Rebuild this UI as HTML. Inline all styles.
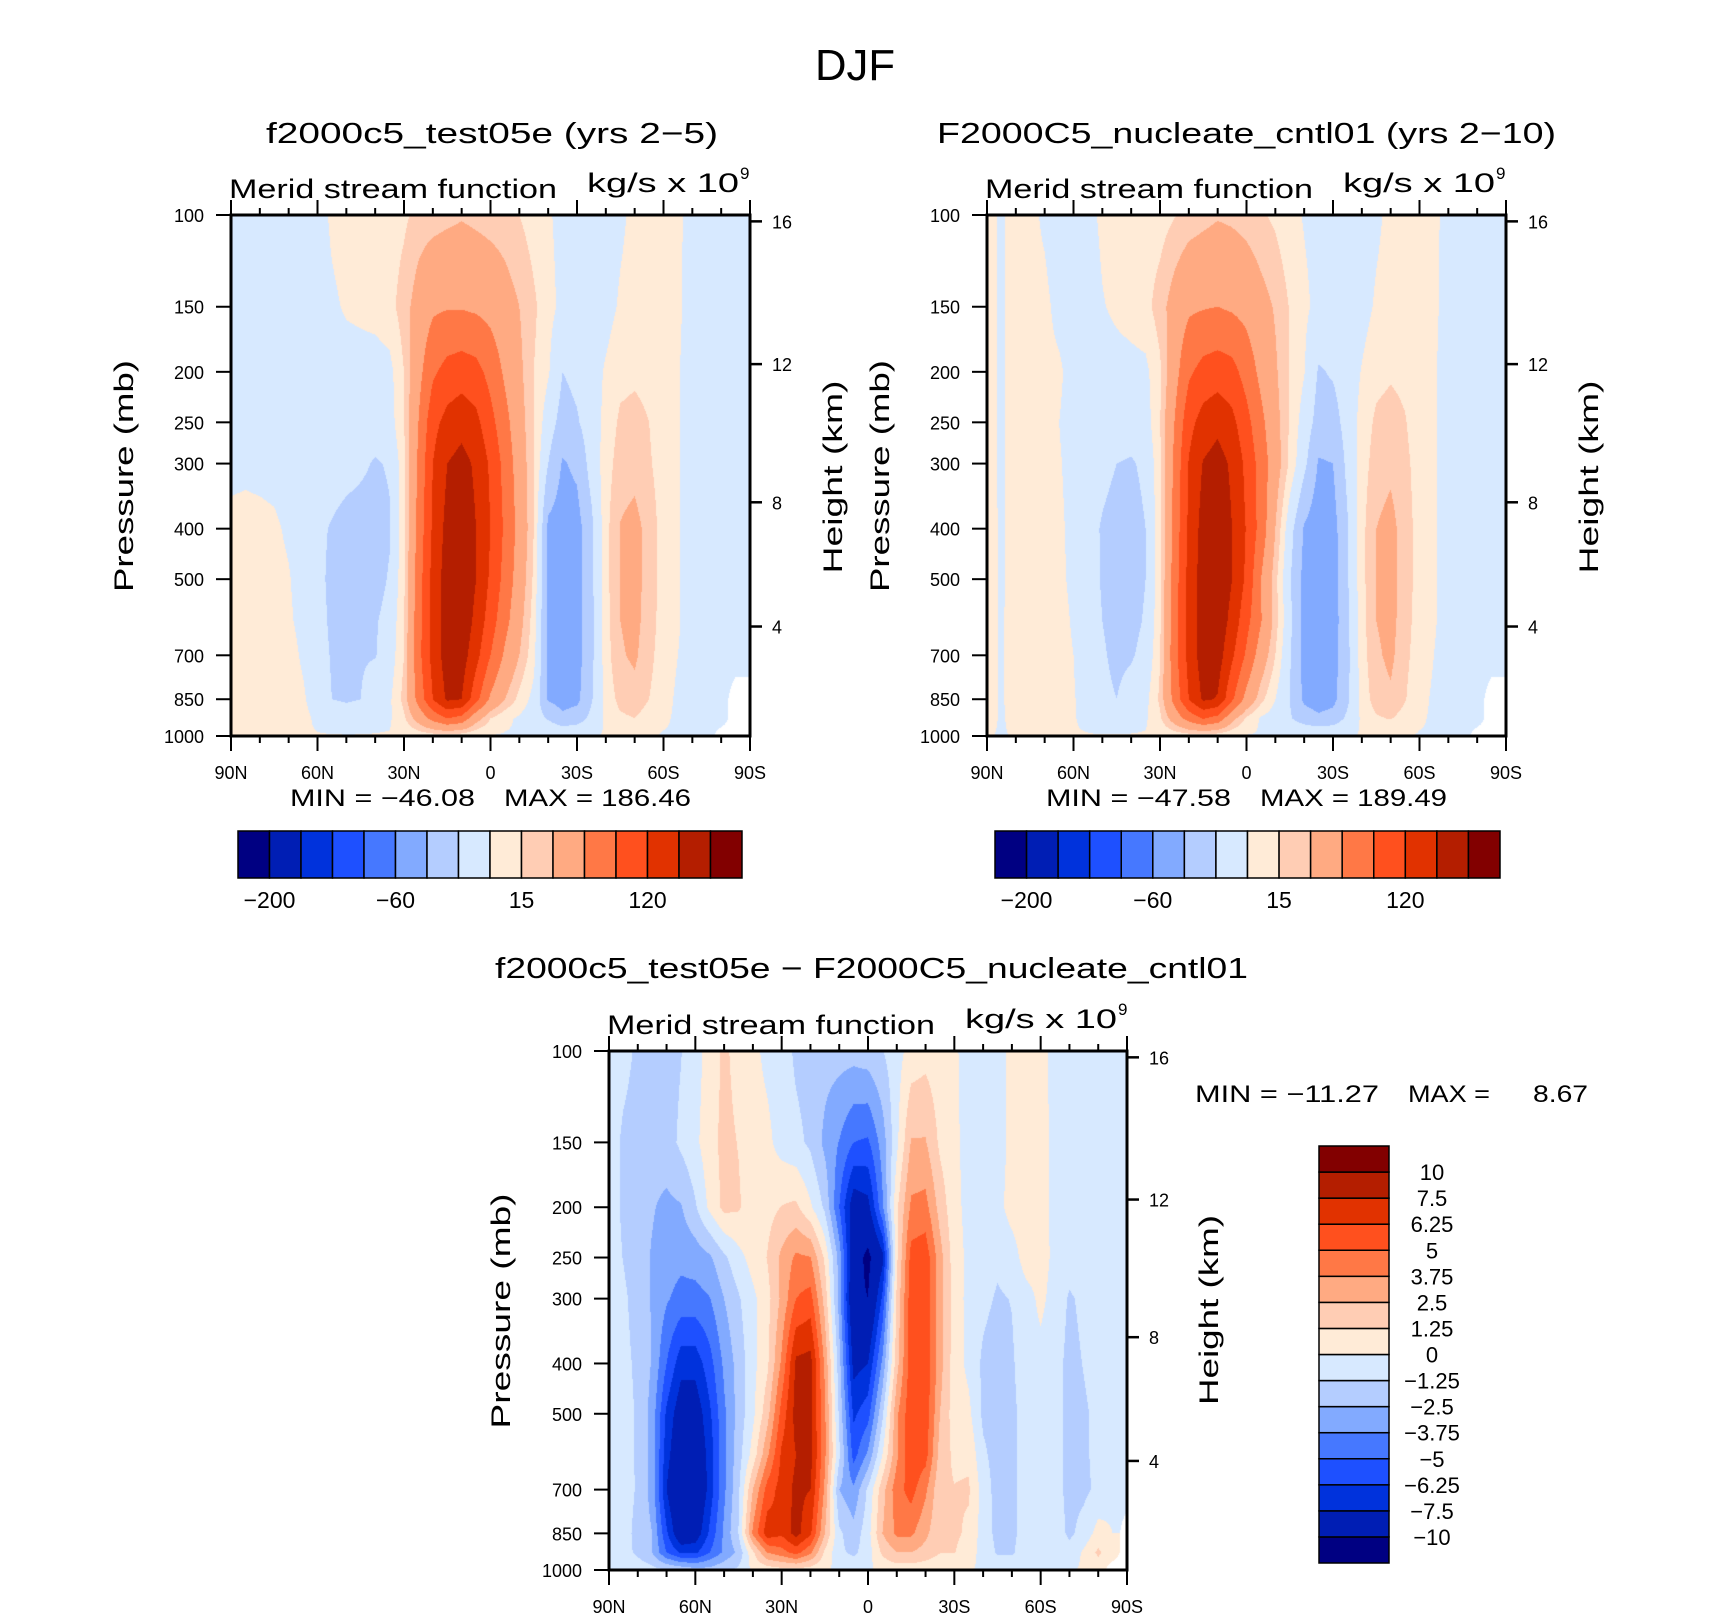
<!DOCTYPE html>
<html><head><meta charset="utf-8"><style>
html,body{margin:0;padding:0;background:#fff}
#wrap{position:relative;width:1710px;height:1620px;overflow:hidden;background:#fff}
canvas{position:absolute}
svg{position:absolute;left:0;top:0}
text{font-family:"Liberation Sans",sans-serif;fill:#000}
</style></head><body>
<div id="wrap">
<canvas id="cTL" style="left:231px;top:215px" width="519" height="521"></canvas>
<canvas id="cTR" style="left:987px;top:215px" width="519" height="521"></canvas>
<canvas id="cB" style="left:609px;top:1051px" width="518" height="519"></canvas>
<svg id="svg" width="1710" height="1620"></svg>
</div>
<script>
const levels=[100,150,200,250,300,400,500,600,700,850,925,1000];
const topContours=[-200,-150,-100,-80,-60,-40,-20,0,15,30,60,90,120,150,200];
const diffContours=[-10,-7.5,-6.25,-5,-3.75,-2.5,-1.25,0,1.25,2.5,3.75,5,6.25,7.5,10];
const palette=["#000082","#001eb4","#0032dc","#1e50ff","#4678ff","#82aaff","#b4cdff","#d7e9ff","#ffebd7","#ffcdb4","#ffaa82","#ff7846","#ff501e","#e13200","#b41e00","#820000"];
const topCbLabels=["−200","−60","15","120"];
const diffCbLabels=["−10","−7.5","−6.25","−5","−3.75","−2.5","−1.25","0","1.25","2.5","3.75","5","6.25","7.5","10"];
const pTicks=[100,150,200,250,300,400,500,700,850,1000];
const hTicks=[4,8,12,16];
const latTicks=[90,60,30,0,-30,-60,-90];
const latTickLabels=["90N","60N","30N","0","30S","60S","90S"];
const N=null;
const tlField=[
[-8,-8,-8,-8,-8,-8,-8,3,8,8,8,8,12,20,22,25,28,25,22,20,15,8,2,-5,-8,-8,-8,-3,4,5,4,2,-4,-4,-4,-4,-4],
[-8,-8,-8,-8,-8,-8,-8,-3,2,4,6,10,22,40,55,58,58,55,50,40,30,18,5,-4,-8,-8,-6,2,6,8,5,2,-5,-5,-5,-5,-5],
[-8,-8,-8,-8,-8,-8,-8,-8,-8,-8,-8,-5,15,50,85,100,105,100,80,55,35,15,2,-20,-15,-8,2,10,12,10,5,1,-6,-6,-6,-6,-6],
[-8,-6,-6,-8,-8,-8,-8,-8,-8,-8,-10,-8,15,60,110,130,140,128,100,70,40,15,-10,-28,-22,-10,5,18,20,15,6,1,-6,-6,-6,-6,-6],
[-3,-2,-3,-4,-6,-9,-9,-9,-12,-16,-22,-18,10,65,120,150,160,145,115,80,45,15,-20,-42,-36,-12,8,22,24,17,7,1,-6,-6,-6,-6,-6],
[3,3,3,2,-2,-8,-15,-22,-28,-30,-30,-22,10,70,125,160,170,150,120,85,50,15,-45,-50,-48,-25,10,31,36,24,8,1,-6,-6,-6,-6,-6],
[4,4,4,4,1,-6,-14,-25,-30,-30,-28,-18,12,75,130,165,175,150,115,80,45,12,-45,-50,-48,-25,10,31,36,24,8,1,-5,-5,-5,-5,-5],
[5,5,5,4,2,-4,-12,-24,-28,-27,-22,-13,14,78,130,165,172,142,105,70,38,8,-45,-50,-48,-25,9,30,35,23,7,1,-5,-5,-5,-5,-5],
[5,5,5,5,5,-2,-10,-22,-26,-22,-21,-10,15,80,130,165,165,130,90,55,30,5,-44,-50,-48,-25,8,28,33,20,6,0,-4,-4,-4,-4,-4],
[5,5,5,5,5,2,-8,-20,-22,-20,-8,-3,20,70,120,155,150,100,55,30,10,-5,-42,-48,-45,-22,5,20,24,15,4,-2,-4,-4,-4,N,N],
[4,4,4,4,4,4,-3,-8,-12,-10,-5,-2,12,40,70,90,80,40,15,3,-2,-10,-22,-35,-30,-15,3,12,15,8,2,-2,-3,-3,-3,N,N],
[1,1,1,1,1,1,1,1,1,1,1,1,2,4,6,6,4,1,-1,-1,-1,-1,-1,-1,-1,-1,1,1,1,1,-1,-1,-1,-1,N,N,N]];
const trField=[
[2,-1,3,3,-2,-8,-8,-5,3,8,8,8,8,14,20,24,28,26,22,17,12,4,-1,-5,-8,-8,-8,-3,4,5,4,2,-3,-3,-3,-3,-3],
[2,-1,3,3,3,-4,-8,-8,-1,3,6,10,22,40,55,58,60,56,50,38,28,14,3,-4,-8,-8,-6,2,6,8,5,2,-4,-4,-4,-4,-4],
[2,-1,3,3,3,2,-5,-8,-8,-6,-5,-4,12,48,85,100,105,100,78,52,33,14,1,-22,-18,-10,1,10,13,11,6,1,-4,-4,-4,-4,-4],
[2,-1,3,3,3,0,-5,-8,-8,-10,-10,-8,14,60,110,132,142,128,100,68,38,13,-8,-28,-28,-12,6,18,21,16,6,1,-4,-4,-4,-4,-4],
[2,-1,3,3,3,1,-4,-10,-14,-20,-22,-16,12,66,122,152,162,145,112,78,42,12,-15,-42,-40,-15,8,22,26,19,8,1,-4,-4,-4,-4,-4],
[3,-1,3,3,3,2,-3,-12,-22,-28,-28,-20,10,70,126,162,172,150,118,78,30,-12,-42,-52,-48,-22,10,30,36,22,9,1,-4,-4,-4,-4,-4],
[3,-1,3,3,3,2,-2,-10,-22,-28,-28,-20,10,74,130,165,176,150,114,60,20,-18,-46,-55,-50,-22,10,30,37,22,9,1,-4,-4,-4,-4,-4],
[3,-1,4,4,4,3,-1,-9,-20,-26,-26,-18,12,76,130,165,172,140,100,62,22,-15,-46,-55,-50,-24,9,30,36,21,8,1,-4,-4,-4,-4,-4],
[3,-1,4,4,4,3,0,-8,-18,-24,-22,-14,14,78,130,165,165,125,85,45,15,-18,-46,-54,-48,-25,8,27,34,19,7,0,-4,-4,-4,-4,-4],
[3,-1,4,4,4,3,1,-6,-16,-20,-12,-5,18,70,120,155,148,95,50,20,0,-20,-44,-50,-46,-24,6,22,27,16,4,-2,-4,-4,-4,N,N],
[3,-1,3,3,3,3,1,-4,-10,-10,-6,-2,12,42,72,92,80,38,12,-2,-8,-18,-30,-36,-32,-16,3,13,16,9,2,-2,-3,-3,-3,N,N],
[1,-1,1,1,1,1,1,1,1,1,1,1,2,4,6,6,4,1,-1,-1,-1,-1,-1,-1,-1,-1,1,1,1,1,-1,-1,-1,-1,N,N,N]];
const diffField=[
[-0.5,-0.8,-1.5,-2,-1.8,-1.3,-0.5,0.5,1.5,0.8,0.3,-0.3,-0.6,-1.5,-1.8,-2,-2,-2,-1.8,-1.3,-0.5,0.5,0.8,0.5,0.2,-0.5,-0.6,-0.4,0.3,0.6,0.3,-0.3,-0.5,-0.5,-0.5,-0.5,-0.5],
[-0.5,-1.5,-1.8,-2,-1.8,-1,-0.3,0.8,1.6,1.2,0.5,0.3,-0.5,-0.9,-1.5,-2.8,-3.8,-5,-5.2,-3.2,-0.3,2.6,2.6,1,0.3,-0.5,-0.7,-0.5,0.3,0.7,0.4,-0.3,-0.6,-0.5,-0.5,-0.5,-0.5],
[-0.5,-1.5,-2,-2.4,-2.8,-2.6,-1.4,0.3,1.6,1.4,0.6,0.8,1.3,1.5,0.2,-1.5,-5,-8.5,-8,-4,1,4,4.2,2,0.4,-0.4,-0.6,-0.4,0.5,0.7,0.4,-0.3,-0.5,-0.5,-0.5,-0.5,-0.5],
[-0.5,-1.3,-2,-2.6,-3.2,-3.4,-3.2,-2.7,-1.5,-0.4,0.5,1.3,2.8,4,3.8,1,-3,-9,-10.5,-8,1,5.5,5.8,3,0.6,-0.3,-0.7,-1,-0.6,0.6,0.5,-0.3,-0.7,-0.5,-0.4,-0.4,-0.4],
[-0.5,-1,-1.8,-2.6,-3.6,-4.2,-4.2,-3.8,-2.5,-1.4,-0.3,0.8,2.8,5,5.5,2,-3,-9.5,-10,-6,1.5,5.8,5.8,3,0.7,-0.4,-0.9,-1.4,-1.2,-0.5,0.3,-0.5,-1.4,-1,-0.6,-0.5,-0.4],
[-0.5,-0.9,-1.5,-2.6,-5,-7,-7,-5.5,-3.5,-2,-0.4,1,4,7.8,8,3.5,-2,-8,-7.5,-3.5,2,5.8,6,3,0.6,-0.3,-1.5,-2,-1.4,-0.6,-0.4,-0.8,-1.6,-1.2,-0.8,-0.5,-0.4],
[-0.4,-0.8,-1.4,-3,-6.5,-8.5,-8.5,-6.5,-4,-2,-0.3,2,5.5,8,7.8,4,-1.5,-6.5,-5.5,-1.5,3.5,6,5.8,2.5,0.6,0.3,-1.5,-1.8,-1.5,-0.8,-0.4,-0.8,-1.6,-1.4,-1,-0.5,-0.3],
[-0.4,-0.8,-1.4,-3,-7,-9,-9,-7,-4,-1.8,0.5,3.5,6.5,7.5,8,4,-1,-5.5,-3.5,0,3.5,6,5.5,2,1,1,-1,-1.8,-1.5,-0.8,-0.3,-0.8,-1.6,-1.4,-1,-0.5,-0.3],
[-0.3,-0.7,-1.4,-3,-7.5,-10,-9.5,-7,-4,-1.5,2.5,5.5,6.8,7.8,7.5,3.5,-2.5,-3.5,-1,2,4.5,5.5,4,1.5,1.3,1.4,-0.5,-1.8,-1.5,-0.8,-0.2,-0.8,-1.6,-1.5,-1,-0.3,0],
[-0.3,-0.8,-1.6,-2.5,-6,-9,-8.5,-6,-3.5,-1.2,4,7,6.5,8,6.5,2.5,-1,-2,-0.5,2.5,4,4,2.8,1.5,1.5,1,-0.6,-1.6,-1.5,-0.8,-0.3,-0.6,-1.5,-0.8,0.5,0,N],
[-0.2,-0.8,-1.5,-2.5,-5,-6.5,-6.5,-5,-3.5,-2.2,1,3.8,4.5,5.5,4,1,-1,-1.5,-0.6,1.5,2.5,2.5,2,1.3,1.3,0.6,-0.5,-1.4,-1.4,-0.6,-0.2,-0.3,-0.8,0.2,1.5,0.3,N],
[-0.1,-0.3,-0.5,-0.8,-1.2,-1.5,-2,-2,-1.5,-1,0.2,0.5,0.8,0.8,0.6,0.2,-0.3,-0.4,-0.2,0.3,0.5,0.5,0.4,0.3,0.3,0.1,-0.2,-0.5,-0.5,-0.2,-0.1,-0.1,-0.2,0.2,0.5,N,N]];

const NS="http://www.w3.org/2000/svg";
const svg=document.getElementById('svg');
function mk(tag,attrs,parent){const e=document.createElementNS(NS,tag);for(const k in attrs)e.setAttribute(k,attrs[k]);(parent||svg).appendChild(e);return e;}
function txt(s,attrs,parent){const e=mk('text',attrs,parent);e.textContent=s;return e;}
function stdP(z){return z<=11?1013.25*Math.pow(1-z/44.33,5.256):226.32*Math.exp(-(z-11)/6.34);}

function levelIndex(v,cont){let k=0;while(k<cont.length&&v>=cont[k])k++;return k;}
function sample(field,lat,p){
  let fi=(90-lat)/5; let i0=Math.min(35,Math.max(0,Math.floor(fi))); let tx=fi-i0;
  let lp=Math.log10(p); let k0=0; while(k0<levels.length-2&&p>levels[k0+1])k0++;
  let ty=(lp-Math.log10(levels[k0]))/(Math.log10(levels[k0+1])-Math.log10(levels[k0]));
  const c=[[field[k0][i0],(1-tx)*(1-ty)],[field[k0][i0+1],tx*(1-ty)],[field[k0+1][i0],(1-tx)*ty],[field[k0+1][i0+1],tx*ty]];
  let s=0,w=0,wn=0;for(const [v,ww] of c){if(v===null)wn+=ww;else{s+=v*ww;w+=ww;}}
  if(wn>0.5||w===0)return null;return s/w;
}
function hexRgb(h){return[parseInt(h.substr(1,2),16),parseInt(h.substr(3,2),16),parseInt(h.substr(5,2),16)];}
const rgbPal=palette.map(hexRgb);
function drawField(id,field,cont){
  const cv=document.getElementById(id),ctx=cv.getContext('2d');const W=cv.width,H=cv.height;
  const img=ctx.createImageData(W,H);
  for(let y=0;y<H;y++){const p=100*Math.pow(10,(y+0.5)/H);
    for(let x=0;x<W;x++){const lat=90-180*(x+0.5)/W;const v=sample(field,lat,p);
      const o=(y*W+x)*4;let col=[255,255,255];if(v!==null)col=rgbPal[levelIndex(v,cont)];
      img.data[o]=col[0];img.data[o+1]=col[1];img.data[o+2]=col[2];img.data[o+3]=255;}}
  ctx.putImageData(img,0,0);
}
drawField('cTL',tlField,topContours);
drawField('cTR',trField,topContours);
drawField('cB',diffField,diffContours);

function axes(x0,y0,w,h,name){
  const g=mk('g',{});
  
  
  const xs=lat=>x0+(90-lat)/180*w, ys=p=>y0+Math.log10(p/100)*h;
  for(let lat=90;lat>=-90;lat-=10){const maj=lat%30===0;const L=maj?15:7;const x=xs(lat);
    mk('line',{x1:x,y1:y0,x2:x,y2:y0-L,stroke:'#000','stroke-width':2},g);
    mk('line',{x1:x,y1:y0+h,x2:x,y2:y0+h+L,stroke:'#000','stroke-width':2},g);}
  latTicks.forEach((lat,i)=>{const t=txt(latTickLabels[i],{x:xs(lat),y:y0+h+43,'font-size':18,'text-anchor':'middle'},g);
    
    });
  pTicks.forEach(p=>{const y=ys(p);mk('line',{x1:x0,y1:y,x2:x0-15,y2:y,stroke:'#000','stroke-width':2},g);
    const t=txt(String(p),{x:x0-27,y:y+7,'font-size':18,'text-anchor':'end'},g);
    
    });
  hTicks.forEach(z=>{const y=ys(stdP(z));mk('line',{x1:x0+w,y1:y,x2:x0+w+12,y2:y,stroke:'#000','stroke-width':2.5},g);
    const t=txt(String(z),{x:x0+w+22,y:y+7,'font-size':18},g);
    
    });
  mk('rect',{x:x0,y:y0,width:w,height:h,fill:'none',stroke:'#000','stroke-width':3},g);
}
axes(231,215,519,521,'test05e');
axes(987,215,519,521,'cntl01');
axes(609,1051,518,519,'difference');

function hbar(x0,y0,w,h,name){
  const g=mk('g',{});
  
  
  const bw=w/palette.length;
  palette.forEach((c,i)=>{const r=mk('rect',{x:x0+i*bw,y:y0,width:bw,height:h,fill:c,stroke:'#000','stroke-width':1.5},g);
    
    });
  topContours.forEach((v,i)=>{if(i%4===0){const t=txt(topCbLabels[i/4],{x:x0+(i+1)*bw,y:y0+h+30,'font-size':23,'text-anchor':'middle'},g);
    
    }});
}
hbar(238,831,504,47,'colorbar-test05e');
hbar(995,831,505,47,'colorbar-cntl01');
(function(){const x0=1319,y0=1146,w=70,h=417;const g=mk('g',{});
  
  
  const bh=h/palette.length;
  palette.forEach((c,i)=>{const r=mk('rect',{x:x0,y:y0+(palette.length-1-i)*bh,width:w,height:bh,fill:c,stroke:'#000','stroke-width':1.5},g);
    
    });
  diffContours.forEach((v,i)=>{const y=y0+(palette.length-1-i)*bh;const t=txt(diffCbLabels[i],{x:1432,y:y+8,'font-size':22,'text-anchor':'middle'},g);
    
    });
})();

function label(s,attrs,name){const t=txt(s,attrs);return t;}
label('DJF',{x:815,y:80,'font-size':44,textLength:80,lengthAdjust:'spacingAndGlyphs'},'figure-title');
label('f2000c5_test05e (yrs 2−5)',{x:266,y:143,'font-size':29,textLength:452,lengthAdjust:'spacingAndGlyphs'},'test05e-title');
label('F2000C5_nucleate_cntl01 (yrs 2−10)',{x:937,y:143,'font-size':29,textLength:619,lengthAdjust:'spacingAndGlyphs'},'cntl01-title');
label('f2000c5_test05e − F2000C5_nucleate_cntl01',{x:495,y:978,'font-size':29,textLength:753,lengthAdjust:'spacingAndGlyphs'},'difference-title');
[[229,198,587,192,'test05e'],[985,198,1343,192,'cntl01'],[607,1034,965,1028,'difference']].forEach(a=>{
  label('Merid stream function',{x:a[0],y:a[1],'font-size':27,textLength:328,lengthAdjust:'spacingAndGlyphs'},a[4]+'-variable-label');
  label('kg/s x 10',{x:a[2],y:a[3],'font-size':27,textLength:152,lengthAdjust:'spacingAndGlyphs'},a[4]+'-units-label');
  label('9',{x:a[2]+153,y:a[3]-13,'font-size':17},a[4]+'-units-exponent');
});
label('MIN = −46.08',{x:290,y:806,'font-size':24,textLength:185,lengthAdjust:'spacingAndGlyphs'},'test05e-min');
label('MAX = 186.46',{x:504,y:806,'font-size':24,textLength:187,lengthAdjust:'spacingAndGlyphs'},'test05e-max');
label('MIN = −47.58',{x:1046,y:806,'font-size':24,textLength:185,lengthAdjust:'spacingAndGlyphs'},'cntl01-min');
label('MAX = 189.49',{x:1260,y:806,'font-size':24,textLength:187,lengthAdjust:'spacingAndGlyphs'},'cntl01-max');
label('MIN = −11.27',{x:1195,y:1102,'font-size':24,textLength:184,lengthAdjust:'spacingAndGlyphs'},'difference-min');
label('MAX =',{x:1408,y:1102,'font-size':24,textLength:82,lengthAdjust:'spacingAndGlyphs'},'difference-max-label');
label('8.67',{x:1533,y:1102,'font-size':24,textLength:55,lengthAdjust:'spacingAndGlyphs'},'difference-max');
function vlabel(s,cx,cy,len,name){const t=txt(s,{x:0,y:0,'font-size':27,'text-anchor':'middle',textLength:len,lengthAdjust:'spacingAndGlyphs',transform:`translate(${cx+9},${cy}) rotate(-90)`});
  }
vlabel('Pressure  (mb)',124,476,232,'test05e-y-axis-title');
vlabel('Height  (km)',833,477,193,'test05e-right-axis-title');
vlabel('Pressure  (mb)',880,476,232,'cntl01-y-axis-title');
vlabel('Height  (km)',1589,477,193,'cntl01-right-axis-title');
vlabel('Pressure  (mb)',501,1311,235,'difference-y-axis-title');
vlabel('Height  (km)',1209,1310,190,'difference-right-axis-title');
</script>
</body></html>
